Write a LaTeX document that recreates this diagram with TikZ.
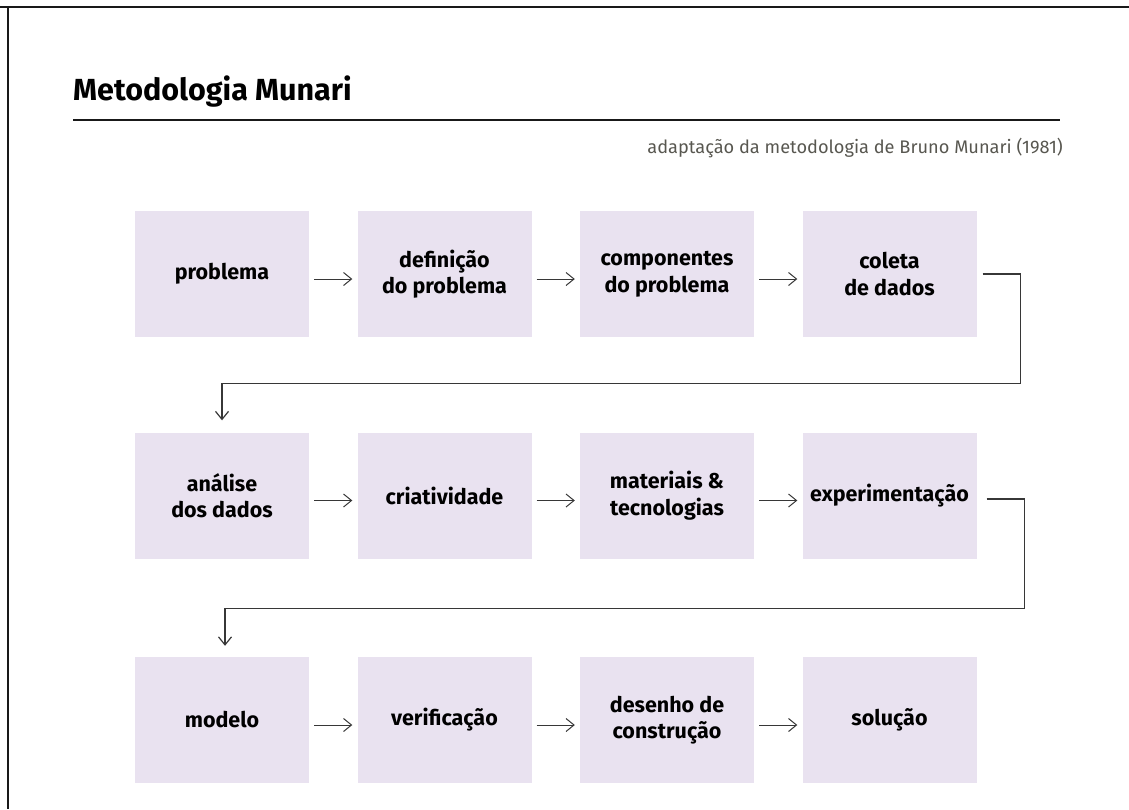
\documentclass[tikz,border=0pt]{standalone}
\usepackage{fontspec}
\setmainfont{Fira Sans}
\usetikzlibrary{arrows.meta,calc}
\definecolor{boxfill}{RGB}{233,226,240}
\definecolor{subgray}{RGB}{88,87,80}
\definecolor{linegray}{RGB}{55,55,55}
\tikzset{
  stepbox/.style={fill=boxfill, draw=none, minimum width=174pt, minimum height=126pt, inner sep=0pt, align=center, font=\fontsize{21.5}{26.5}\selectfont\bfseries, text=black},
  arr/.style={draw=linegray, line width=1pt, -{Straight Barb[length=8pt,width=13pt,line width=1pt]}},
  conn/.style={draw=linegray, line width=1.3pt, -{Straight Barb[length=8pt,width=13pt,line width=1.2pt]}}
}
\begin{document}
\begin{tikzpicture}[x=1pt,y=1pt]
\useasboundingbox (0,0) rectangle (1129,-809);
% frame
\draw[line width=2pt, black!90] (0,-7) -- (1129,-7);
\draw[line width=2pt, black!90] (8,-7) -- (8,-809);
% title
\node[anchor=base west, inner sep=0pt, font=\fontsize{30.5}{34}\selectfont\bfseries] (title) at (73,-100) {Metodologia Munari};
\draw[line width=1.4pt, black!90] (73,-120) -- (1060,-120);
\node[anchor=base east, inner sep=0pt, text=subgray, font=\fontsize{18.2}{21}\selectfont] (sub) at (1063,-153) {adaptação da metodologia de Bruno Munari (1981)};
% row 1
\node[stepbox] (a1) at (222,-274) {problema};
\node[stepbox] (a2) at (444.5,-274) {definição\\do problema};
\node[stepbox] (a3) at (667,-274) {componentes\\do problema};
\node[stepbox] (a4) at (889.5,-274) {coleta\\de dados};
% row 2
\node[stepbox] (b1) at (222,-495.5) {análise\\dos dados};
\node[stepbox] (b2) at (444.5,-495.5) {criatividade};
\node[stepbox] (b3) at (667,-495.5) {materiais \&\\tecnologias};
\node[stepbox] (b4) at (889.5,-495.5) {experimentação};
% row 3
\node[stepbox] (c1) at (222,-720) {modelo};
\node[stepbox] (c2) at (444.5,-720) {verificação};
\node[stepbox] (c3) at (667,-720) {desenho de\\construção};
\node[stepbox] (c4) at (889.5,-720) {solução};
% horizontal arrows
\foreach \r in {a,b,c}{
  \draw[arr] ([xshift=5pt,yshift=-5pt]\r1.east) -- ([xshift=-5pt,yshift=-5pt]\r2.west);
  \draw[arr] ([xshift=5pt,yshift=-5pt]\r2.east) -- ([xshift=-5pt,yshift=-5pt]\r3.west);
  \draw[arr] ([xshift=5pt,yshift=-5pt]\r3.east) -- ([xshift=-5pt,yshift=-5pt]\r4.west);
}
% row connectors
\draw[conn] ([xshift=6pt]a4.east) -- ++(38pt,0) |- ($(b1.north)+(0,49pt)$) -- ([yshift=12pt]b1.north);
\draw[conn] ([xshift=10pt,yshift=-3.5pt]b4.east) -- ++(38pt,0) |- ($(c1.north)+(3pt,48pt)$) -- ([xshift=3pt,yshift=11pt]c1.north);
\end{tikzpicture}
\end{document}
